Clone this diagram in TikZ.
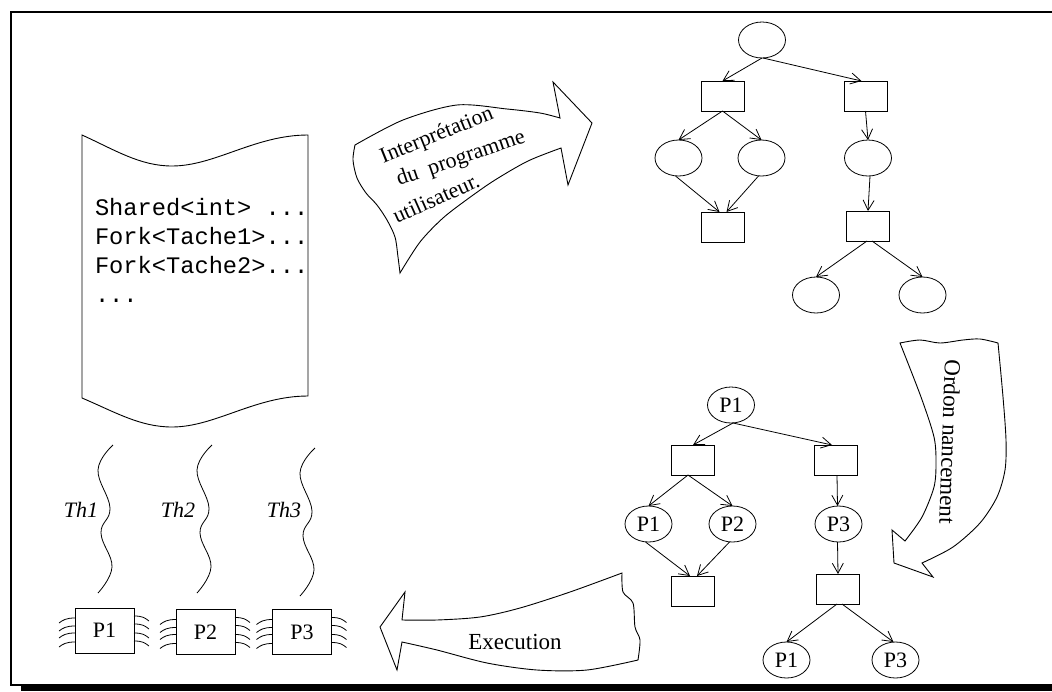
\documentclass[tikz,border=0pt]{standalone}
\usepackage{fontspec}
\setmainfont{Liberation Serif}
\setmonofont{Liberation Mono}
\usetikzlibrary{shapes.geometric,arrows.meta}
\begin{document}
\begin{tikzpicture}[x=1pt,y=-1pt,
  every node/.style={inner sep=0pt,outer sep=0pt},
  ell/.style={draw,ellipse,minimum width=47pt,minimum height=36pt,line width=0.8pt,font=\fontsize{22}{22}\selectfont},
  sbox/.style={draw,rectangle,minimum width=43pt,minimum height=30pt,line width=0.8pt},
  arr/.style={line width=0.8pt,-{Straight Barb[length=10pt,width=11pt,line width=0.8pt]}},
  chip/.style={draw,rectangle,minimum width=59pt,minimum height=45pt,line width=0.8pt,font=\fontsize{22}{22}\selectfont},
  pinline/.style={line width=0.8pt},
  bigarrow/.style={line width=0.9pt,line join=miter},
  lbl/.style={font=\fontsize{23}{23}\selectfont},
  ilbl/.style={font=\fontsize{22}{22}\selectfont},
  codetxt/.style={anchor=base west,font=\ttfamily\fontsize{23.7}{29}\selectfont},
  thlbl/.style={font=\itshape\fontsize{22}{22}\selectfont},
  thread/.style={line width=0.8pt},
  frameline/.style={line width=2pt}
]
\useasboundingbox (0,0) rectangle (1052,691);

% frame
\draw[frameline] (1052,12) -- (11,12) -- (11,685) -- (1052,685);
\fill (21,684) rectangle (1052,691);

% document sheet
\draw[line width=0.9pt] (82,135) .. controls (115,150) and (140,166) .. (172,166)
  .. controls (215,166) and (255,135) .. (308,135) -- (308,396)
  .. controls (255,396) and (215,427) .. (172,427)
  .. controls (140,427) and (115,412) .. (82,398) -- cycle;
\node[codetxt] (code1) at (95,215) {Shared<int> ...};
\node[codetxt] (code2) at (95,244) {Fork<Tache1>...};
\node[codetxt] (code3) at (95,273) {Fork<Tache2>...};
\node[codetxt] (code4) at (95,302) {...};

% arrow: interpretation
\draw[bigarrow] plot[smooth] coordinates {(400,273) (398,257) (395,237) (387,220) (377,205) (366,193) (357,178) (353,160) (355,145)}
  -- plot[smooth] coordinates {(355,145) (403,120) (457,105) (507,109) (540,113) (560,118)}
  -- (553,82) -- (592,123) -- (568,185) -- (561,148)
  -- plot[smooth] coordinates {(561,148) (528,161) (495,180) (469,198) (443,218) (420,242) (400,273)} -- cycle;
\node[ilbl,rotate=22] (i1) at (437,136) {Interprétation};
\node[ilbl,rotate=19] (i2) at (461,159) {du~ programme};
\node[ilbl,rotate=24] (i3) at (436,198) {utilisateur.};

% arrow: ordonnancement
\draw[bigarrow] plot[smooth] coordinates {(900,343) (920,340) (940,343) (963,340) (980,339) (998,343)}
  -- plot[smooth] coordinates {(998,343) (1003,397) (1006,440) (1005,470) (997,497) (980,523) (953,547) (922,563)}
  -- (933,577) -- (894,563) -- (892,530) -- (905,541)
  -- plot[smooth] coordinates {(905,541) (922,517) (934,487) (936,463) (934,437) (921,397) (900,343)} -- cycle;
\node[lbl,rotate=-92] (ord) at (950,442) {Ordon nancement};

% arrow: execution
\draw[bigarrow] (380,627) -- (405,592) -- (402,620)
  -- plot[smooth] coordinates {(402,620) (437,620) (480,617) (520,608) (570,592) (622,573)}
  -- plot[smooth] coordinates {(622,573) (623,592) (633,603) (635,627) (640,640) (638,660)}
  -- plot[smooth] coordinates {(638,660) (587,670) (537,670) (487,663) (437,650) (402,642)}
  -- (397,670) -- cycle;
\node[lbl] (exe) at (515,642) {Execution};

% top graph
\node[ell] (t0) at (762,40) {};
\node[sbox] (tL) at (722.5,96) {};
\node[sbox] (tR) at (865.5,96) {};
\node[ell] (tL1) at (678.5,158) {};
\node[ell] (tL2) at (761.5,158) {};
\node[ell] (tR1) at (868,158) {};
\node[sbox] (tBL) at (722.5,227) {};
\node[sbox] (tR2) at (868,226) {};
\node[ell] (tB1) at (816,295) {};
\node[ell] (tB2) at (922.5,295) {};
\draw[arr] (t0.south) -- (tL.north);
\draw[arr] ([xshift=1pt]t0.south) -- ([xshift=-4pt]tR.north);
\draw[arr] (tL.south) -- (tL1.north);
\draw[arr] (tL.south) -- (tL2.north);
\draw[arr] ([xshift=-3pt]tL1.south) -- ([xshift=-3pt]tBL.north);
\draw[arr] ([xshift=-3pt]tL2.south) -- ([xshift=4pt]tBL.north);
\draw[arr] (tR.south) -- (tR1.north);
\draw[arr] ([xshift=2pt]tR1.south) -- (tR2.north);
\draw[arr] ([xshift=-1pt]tR2.south) -- (tB1.north);
\draw[arr] ([xshift=4pt]tR2.south) -- (tB2.north);

% bottom graph
\node[ell] (b0) at (731,405) {P1};
\node[sbox] (bL) at (693,460) {};
\node[sbox] (bR) at (836,460) {};
\node[ell] (bL1) at (648.5,524) {P1};
\node[ell] (bL2) at (732.5,524) {P2};
\node[ell] (bR1) at (838.5,524) {P3};
\node[sbox] (bBL) at (693,591) {};
\node[sbox] (bR2) at (838,589) {};
\node[ell] (bB1) at (786.5,660) {P1};
\node[ell] (bB2) at (895.5,660) {P3};
\draw[arr] ([xshift=2pt]b0.south) -- (bL.north);
\draw[arr] ([xshift=2pt]b0.south) -- ([xshift=-4pt]bR.north);
\draw[arr] ([xshift=-5pt]bL.south) -- (bL1.north);
\draw[arr] ([xshift=-5pt]bL.south) -- (bL2.north);
\draw[arr] ([xshift=-3pt]bL1.south) -- ([xshift=-3pt]bBL.north);
\draw[arr] ([xshift=-3pt]bL2.south) -- ([xshift=4pt]bBL.north);
\draw[arr] ([xshift=1pt]bR.south) -- ([xshift=-1pt]bR1.north);
\draw[arr] ([xshift=-1pt]bR1.south) -- (bR2.north);
\draw[arr] ([xshift=-1pt]bR2.south) -- (bB1.north);
\draw[arr] ([xshift=4pt]bR2.south) -- ([xshift=-2pt]bB2.north);

% threads
\foreach \dx/\dy in {0/0,99/0,202/3}{
  \draw[thread,shift={(\dx,\dy)}] plot[smooth,tension=0.7] coordinates {(113,445) (98,470) (110,508) (101,533) (112,567) (98,593)};
}
\node[thlbl] (th1) at (81,510) {Th1};
\node[thlbl] (th2) at (178,510) {Th2};
\node[thlbl] (th3) at (284,510) {Th3};

% processors
\node[chip] (c1) at (104.5,630.5) {P1};
\node[chip] (c2) at (205.5,632) {P2};
\node[chip] (c3) at (302,632) {P3};
\foreach \c in {c1,c2,c3}{
  \foreach \d in {10,18,25,34}{
    \draw[pinline] ([yshift=-\d pt]\c.north west) .. controls +(-9,0) and +(4,-3) .. +(-16,5);
  }
  \foreach \d in {8,16,25,33}{
    \draw[pinline] ([yshift=-\d pt]\c.north east) .. controls +(9,0) and +(-4,-3) .. +(15,5);
  }
}
\end{tikzpicture}
\end{document}
